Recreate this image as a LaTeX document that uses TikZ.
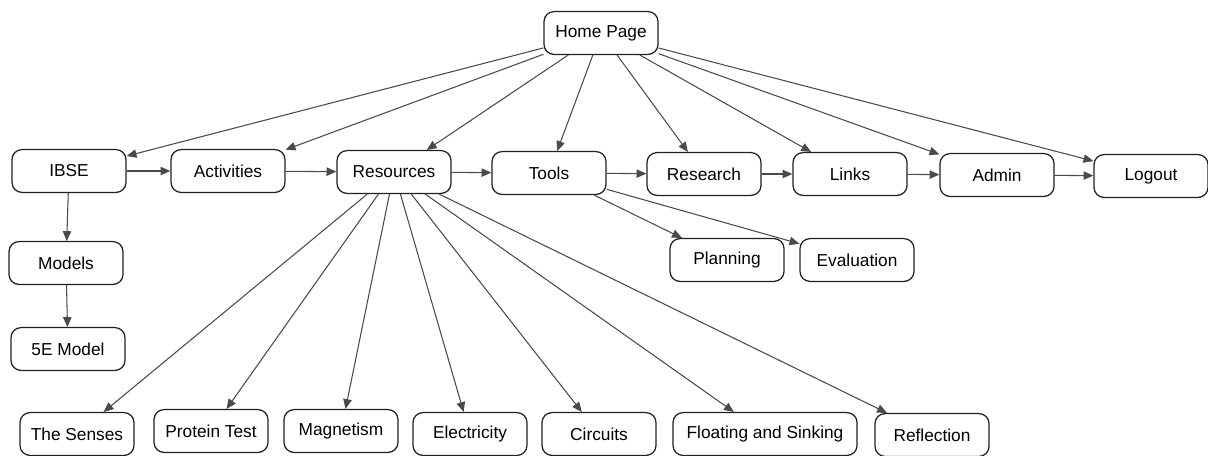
\documentclass[tikz,border=0pt]{standalone}
\usepackage{fontspec}
\setmainfont{Liberation Sans}
\usepackage{tikz}
\usetikzlibrary{arrows.meta}
\definecolor{edgegray}{rgb}{0.29,0.29,0.29}
\definecolor{boxline}{rgb}{0.13,0.13,0.13}

\begin{document}
\begin{tikzpicture}[%
    x=0.025cm, y=-0.025cm,
    >={Triangle[length=7pt,width=6pt]},
    page/.style  = {draw=boxline, rectangle, rounded corners=0.25cm, line width=0.9pt,
                    minimum width = 2.85cm, minimum height = 1.07cm,
                    font=\fontsize{12.3}{14}\selectfont},
    link/.style  = {->, draw=edgegray, line width=0.75pt}]

  \useasboundingbox (0,0) rectangle (1208,455);

  % top level
  \draw (601,33) node[page] (home) {Home Page};
  \draw (69,171) node[page] (ibse) {IBSE};
  \draw (228,171) node[page] (act) {Activities};
  \draw (394,172) node[page] (res) {Resources};
  \draw (549,173) node[page] (tools) {Tools};
  \draw (704,174) node[page] (research) {Research};
  \draw (850,174) node[page] (links) {Links};
  \draw (997,175) node[page] (admin) {Admin};
  \draw (1151,176) node[page] (logout) {Logout};

  % sub pages
  \draw (66,263) node[page] (models) {Models};
  \draw (68,349) node[page] (fivee) {5E Model};
  \draw (727,260) node[page] (plan) {Planning};
  \draw (857,260) node[page] (eval) {Evaluation};

  % resources
  \draw (77,434) node[page] (senses) {The Senses};
  \draw (211,431) node[page] (protein) {Protein Test};
  \draw (341,431) node[page] (magnet) {Magnetism};
  \draw (470,434) node[page] (elec) {Electricity};
  \draw (599,434) node[page] (circ) {Circuits};
  \draw (765,434) node[page, minimum width=4.6cm] (float) {Floating and Sinking};
  \draw (932,435) node[page] (refl) {Reflection};

  \foreach \n in {ibse,act,res,tools,research,links,admin,logout}
    \draw [link] (home) -- (\n);

  \draw [link] (ibse) -- (act);
  \draw [link] (act) -- (res);
  \draw [link] (res) -- (tools);
  \draw [link] (tools) -- (research);
  \draw [link] (research) -- (links);
  \draw [link] (links) -- (admin);
  \draw [link] (admin) -- (logout);

  \draw [link] (ibse) -- (models);
  \draw [link] (models) -- (fivee);
  \draw [link] (tools) -- (plan);
  \draw [link] (tools) -- (eval);

  \foreach \n in {senses,protein,magnet,elec,circ,float,refl}
    \draw [link] (res) -- (\n);

\end{tikzpicture}
\end{document}
